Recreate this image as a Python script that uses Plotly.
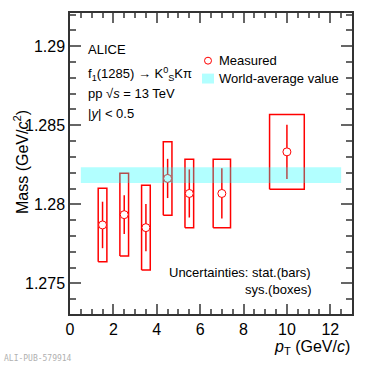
import plotly.graph_objects as go

# f1(1285) mass vs pT, ALICE pp 13 TeV
pt = [1.5, 2.5, 3.5, 4.5, 5.5, 7.0, 10.0]
bin_width = [1, 1, 1, 1, 1, 2, 4]
mass = [1.27870, 1.27935, 1.27853, 1.28164, 1.28069, 1.28069, 1.28332]
stat_err = [0.00147, 0.00123, 0.00149, 0.00124, 0.00152, 0.00159, 0.00172]
sys_err = [0.00232, 0.00262, 0.00268, 0.00232, 0.00216, 0.00217, 0.00236]

world_avg = 1.28185
world_avg_err = 0.0005
world_avg_pt = [0.5, 12.5]

y_tickvals = [1.275, 1.28, 1.285, 1.29]
y_ticktext = ["1.275", "1.28", "1.285", "1.29"]
x_tickvals = [0, 2, 4, 6, 8, 10, 12]

RED = "rgb(255,0,0)"
FONT = "Liberation Sans, Arial, sans-serif"

fig = go.Figure()

# systematic boxes
for x, bw, m, s in zip(pt, bin_width, mass, sys_err):
    hw = 0.2 * bw
    fig.add_trace(go.Scatter(x=[x-hw, x+hw, x+hw, x-hw, x-hw],
                             y=[m-s, m-s, m+s, m+s, m-s],
                             mode="lines", line=dict(color=RED, width=1.5),
                             showlegend=False, hoverinfo="skip"))

# points with stat bars
fig.add_trace(go.Scatter(x=pt, y=mass, mode="markers",
                         marker=dict(symbol="circle", size=8, color="white",
                                     line=dict(color=RED, width=1)),
                         error_y=dict(type="data", array=stat_err, color=RED,
                                      thickness=1.5, width=0),
                         showlegend=False))

# world average band
fig.add_trace(go.Scatter(x=[world_avg_pt[0], world_avg_pt[1], world_avg_pt[1], world_avg_pt[0], world_avg_pt[0]],
                         y=[world_avg-world_avg_err, world_avg-world_avg_err,
                            world_avg+world_avg_err, world_avg+world_avg_err,
                            world_avg-world_avg_err],
                         fill="toself", fillcolor="rgba(0,255,255,0.3)",
                         mode="none", showlegend=False, hoverinfo="skip"))

W, H = 379, 365
L, R, T, B = 70, 27, 11, 51
pw, ph = W - L - R, H - T - B

def px(x):
    return (x - L) / pw

def py(y):
    return (H - B - y) / ph

def note(text, x, y, xanchor="left", size=13, family=FONT, color="black", **kw):
    fig.add_annotation(text=text, x=px(x), y=py(y), xref="paper", yref="paper",
                       xanchor=xanchor, yanchor="middle", showarrow=False,
                       font=dict(family=family, size=size, color=color), **kw)

note("ALICE", 86, 47.5)
note("f<sub>1</sub>(1285) → K<sup>0</sup><sub>S</sub>Kπ", 86, 72)
note("pp √<i>s</i> = 13 TeV", 86, 92)
note("|<i>y</i>| &lt; 0.5", 86, 112)
note("Uncertainties: stat.(bars)", 313, 272, xanchor="right")
note("sys.(boxes)", 313, 289, xanchor="right")

# legend
note("Measured", 217, 59)
note("World-average value", 217, 77)
fig.add_shape(type="circle", xref="paper", yref="paper",
              x0=px(204.5), x1=px(211.5), y0=py(62.5), y1=py(55.5),
              line=dict(color=RED, width=1), fillcolor="white")
fig.add_shape(type="rect", xref="paper", yref="paper",
              x0=px(202), x1=px(214), y0=py(82), y1=py(72),
              line=dict(width=0), fillcolor="rgba(0,255,255,0.3)")

# axis titles
note("<i>p</i><sub>T</sub> (GeV/<i>c</i>)", 352, 348, xanchor="right", size=16)
fig.add_annotation(text="Mass (GeV/<i>c</i><sup>2</sup>)", x=px(21), y=py(161),
                   xref="paper", yref="paper", textangle=-90, showarrow=False,
                   xanchor="center", yanchor="middle",
                   font=dict(family=FONT, size=16, color="black"))

# watermark
note("ALI-PUB-579914", 2, 359, size=8, family="DejaVu Sans Mono", color="#b0b0b0")

axis_common = dict(showgrid=False, zeroline=False, showline=True,
                   linecolor="#333", linewidth=1.5, mirror="ticks",
                   ticks="inside", tickcolor="#666", tickwidth=1.5,
                   tickfont=dict(family=FONT, size=16, color="black"))

fig.update_xaxes(range=[0, 13], tickvals=x_tickvals, ticklen=10,
                 minor=dict(dtick=0.5, ticks="inside", ticklen=5,
                            tickcolor="#666", tickwidth=1.5),
                 **axis_common)
fig.update_yaxes(range=[1.27307, 1.2921], tickvals=y_tickvals, ticktext=y_ticktext,
                 ticklen=11,
                 minor=dict(dtick=0.001, tick0=1.275, ticks="inside", ticklen=6,
                            tickcolor="#666", tickwidth=1.5),
                 **axis_common)

fig.update_layout(width=W, height=H, margin=dict(l=L, r=R, t=T, b=B),
                  plot_bgcolor="white", paper_bgcolor="white",
                  font=dict(family=FONT))

# page default margin would shift the figure by 8px
fig.write_html("out.html", config={"displayModeBar": False},
               post_script="document.body.style.margin='0';")
